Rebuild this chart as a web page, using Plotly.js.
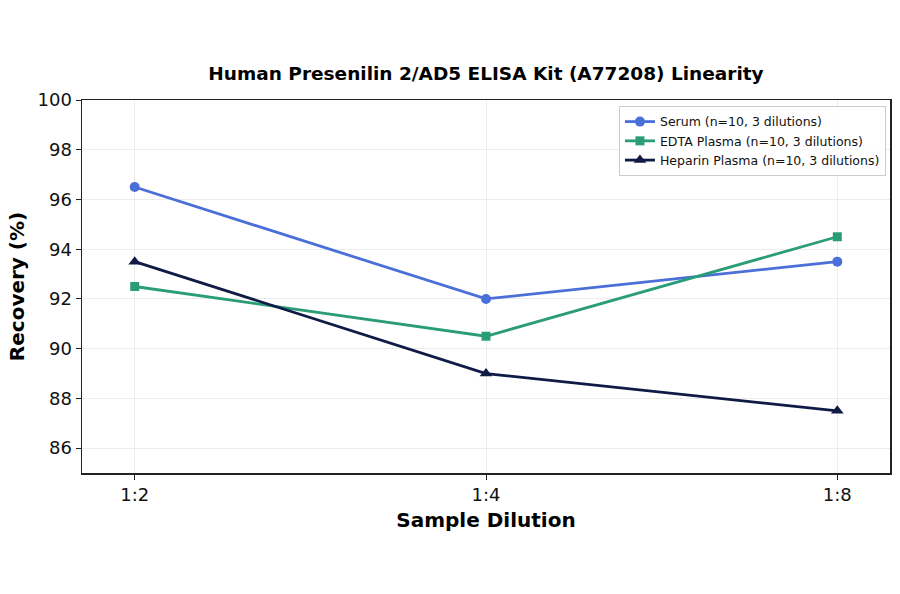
<!DOCTYPE html>
<html>
<head>
<meta charset="utf-8">
<script src="https://cdn.plot.ly/plotly-3.0.1.min.js"></script>
<style>
  html, body { margin: 0; padding: 0; background: #fff; }
  #chart { width: 900px; height: 594px; }
</style>
</head>
<body>
<div id="chart"></div>
<script>
// dilutions on the x axis
var dilutions = ['1:2', '1:4', '1:8'];

// recovery (%) per sample type
var serumVals = [96.5, 92.0, 93.5];
var edtaVals = [92.5, 90.5, 94.5];
var heparinVals = [93.5, 89.0, 87.5];

var yTicks = [86, 88, 90, 92, 94, 96, 98, 100];

function makeTrace(name, vals, color, symbol, msize) {
  return {
    name: name,
    x: [0, 1, 2],
    y: vals,
    type: 'scatter',
    mode: 'lines+markers',
    line: { color: color, width: 2.8 },
    marker: { color: color, size: msize, symbol: symbol }
  };
}

var data = [
  makeTrace('Serum (n=10, 3 dilutions)', serumVals, '#4a6fd8', 'circle', 10),
  makeTrace('EDTA Plasma (n=10, 3 dilutions)', edtaVals, '#2a9d78', 'square', 9),
  makeTrace('Heparin Plasma (n=10, 3 dilutions)', heparinVals, '#0f1a45', 'triangle-up', 11)
];

var layout = {
  width: 900,
  height: 594,
  margin: { l: 82, r: 10, t: 100, b: 121 },
  paper_bgcolor: '#fff',
  plot_bgcolor: '#fff',
  font: { family: 'DejaVu Sans', color: '#111' },
  title: {
    text: '<b>Human Presenilin 2/AD5 ELISA Kit (A77208) Linearity</b>',
    font: { size: 18.5, color: '#000' },
    x: 0.54, xanchor: 'center',
    y: 0.877, yanchor: 'middle'
  },
  xaxis: {
    range: [-0.15, 2.15],
    tickmode: 'array',
    tickvals: [0, 1, 2],
    ticktext: dilutions,
    ticks: 'outside', ticklen: 5, tickcolor: '#222',
    tickfont: { size: 18 },
    showgrid: true, gridcolor: '#ececec', gridwidth: 1,
    zeroline: false,
    showline: true, linecolor: '#222', linewidth: 1.5, mirror: true,
    title: { text: '<b>Sample Dilution</b>', font: { size: 20, color: '#000' }, standoff: 9 }
  },
  yaxis: {
    range: [85, 100],
    tickmode: 'array',
    tickvals: yTicks,
    ticks: 'outside', ticklen: 5, tickcolor: '#222',
    tickfont: { size: 18 },
    showgrid: true, gridcolor: '#ececec', gridwidth: 1,
    zeroline: false,
    showline: true, linecolor: '#222', linewidth: 1.5, mirror: true,
    title: { text: '<b>Recovery (%)</b>', font: { size: 20, color: '#000' }, standoff: 7 }
  },
  showlegend: true,
  legend: {
    x: 0.995, xanchor: 'right',
    y: 0.984, yanchor: 'top',
    bgcolor: 'rgba(255,255,255,0.9)',
    bordercolor: '#cccccc', borderwidth: 1,
    font: { size: 12.5, color: '#111' },
    itemwidth: 30,
    tracegroupgap: 0
  }
};

Plotly.newPlot('chart', data, layout, { displayModeBar: false, staticPlot: true });
</script>
</body>
</html>
